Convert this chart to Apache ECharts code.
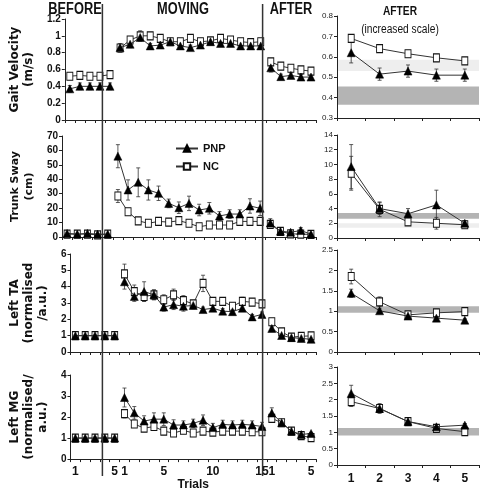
<!DOCTYPE html>
<html><head><meta charset="utf-8">
<script src="https://cdn.jsdelivr.net/npm/echarts@6/dist/echarts.min.js"></script>
<style>html,body{margin:0;padding:0;background:#fff}#c{width:480px;height:492px}</style>
</head><body><div id="c"></div>
<script>
// ---------- DATA ----------
const groups = ['PNP', 'NC'];
const afterCategories = ['1', '2', '3', '4', '5'];
const beforeTickLabels = ['1', '', '', '', '5'];
const movingTickLabels = ['1', '', '', '', '5', '', '', '', '', '10', '', '', '', '', '15'];
const afterTickLabels = ['1', '', '', '', '5'];

// Gait velocity (m/s)
const velBeforePNP = [0.37, 0.40, 0.40, 0.40, 0.40];
const velBeforeNC = [0.52, 0.53, 0.52, 0.52, 0.54];
const velMovingPNP = [0.86, 0.90, 0.98, 0.88, 0.89, 0.93, 0.88, 0.86, 0.89, 0.93, 0.91, 0.91, 0.88, 0.88, 0.88];
const velMovingNC = [0.855, 0.95, 1.00, 1.00, 0.97, 0.93, 0.93, 0.97, 0.93, 0.94, 0.97, 0.95, 0.93, 0.92, 0.93];
const velAfterPNP = [0.62, 0.515, 0.53, 0.51, 0.51];
const velAfterNC = [0.69, 0.64, 0.615, 0.595, 0.58];
const velErrBeforePNP = [0.04, 0.04, 0.04, 0.04, 0.04];
const velErrBeforeNC = [0.02, 0.02, 0.02, 0.02, 0.02];
const velErrMovingPNP = [0.04, 0.04, 0.04, 0.03, 0.03, 0.02, 0.02, 0.03, 0.02, 0.02, 0.02, 0.02, 0.02, 0.02, 0.02];
const velErrMovingNC = [0.05, 0.04, 0.06, 0.04, 0.03, 0.02, 0.02, 0.03, 0.02, 0.02, 0.03, 0.02, 0.02, 0.02, 0.02];
const velErrAfterPNP = [0.05, 0.03, 0.03, 0.03, 0.03];
const velErrAfterNC = [0.015, 0.015, 0.015, 0.015, 0.015];
const velBands = [[0.365, 0.455, 'dark'], [0.53, 0.585, 'light']];

// Trunk sway (cm)
const swayBeforePNP = [2.5, 2, 2.5, 2, 2];
const swayBeforeNC = [2, 2, 2, 1.5, 2];
const swayMovingPNP = [56, 32.6, 37.9, 32.6, 30.3, 23.3, 20.3, 23.3, 18.7, 19.9, 14.6, 15.9, 15.9, 21.5, 19.9];
const swayMovingNC = [28.4, 17.5, 11.2, 9.5, 10.8, 10.3, 11.3, 9.5, 7.1, 8.3, 8.3, 8.3, 10.8, 10.8, 10.8];
const swayAfterPNP = [9.7, 4.0, 3.3, 4.5, 2.0];
const swayAfterNC = [8.8, 3.9, 2.2, 2.0, 1.8];
const swayErrBeforePNP = [1, 1, 1, 1, 1];
const swayErrBeforeNC = [0.8, 0.8, 0.8, 0.8, 0.8];
const swayErrMovingPNP = [8, 7, 10, 7, 5, 3, 4, 5, 4, 4, 3, 3, 3, 5, 5];
const swayErrMovingNC = [4.5, 2, 1.5, 1.5, 1.5, 1.5, 1.5, 1.5, 1.2, 1.2, 1.2, 1.2, 1.5, 1.5, 1.5];
const swayErrAfterPNP = [3, 0.8, 0.7, 2, 0.3];
const swayErrAfterNC = [2.3, 1.0, 0.5, 0.8, 0.5];
const swayBands = [[2.6, 3.4, 'dark'], [1.4, 2.0, 'light']];

// Left TA (normalised / a.u.)
const taBeforePNP = [1, 1, 1, 1, 1];
const taBeforeNC = [1, 1, 1, 1, 1];
const taMovingPNP = [4.3, 3.4, 3.7, 3.5, 2.75, 2.9, 2.8, 2.85, 2.6, 2.68, 2.5, 2.47, 2.68, 2.15, 2.3];
const taMovingNC = [4.78, 3.7, 3.4, 3.5, 3.2, 3.5, 3.15, 2.95, 4.2, 3.1, 3.1, 2.8, 3.1, 3.05, 2.95];
const taAfterPNP = [1.44, 1.01, 0.88, 0.83, 0.78];
const taAfterNC = [1.85, 1.23, 0.91, 0.96, 0.99];
const taErrBeforePNP = [0, 0, 0, 0, 0];
const taErrBeforeNC = [0, 0, 0, 0, 0];
const taErrMovingPNP = [0.45, 0.3, 0.6, 0.3, 0.25, 0.3, 0.3, 0.2, 0.15, 0.15, 0.15, 0.15, 0.15, 0.15, 0.15];
const taErrMovingNC = [0.6, 0.4, 0.3, 0.3, 0.3, 0.35, 0.3, 0.2, 0.5, 0.2, 0.2, 0.2, 0.25, 0.2, 0.2];
const taErrAfterPNP = [0.1, 0.05, 0.03, 0.03, 0.03];
const taErrAfterNC = [0.18, 0.12, 0.05, 0.05, 0.05];
const taBands = [[0.96, 1.12, 'dark']];

// Left MG (normalised / a.u.)
const mgBeforePNP = [1, 1, 1, 1, 1];
const mgBeforeNC = [1, 1, 1, 1, 1];
const mgMovingPNP = [2.93, 2.2, 1.81, 1.9, 1.9, 1.62, 1.62, 1.7, 1.85, 1.5, 1.65, 1.62, 1.65, 1.62, 1.55];
const mgMovingNC = [2.16, 1.67, 1.47, 1.55, 1.33, 1.24, 1.37, 1.24, 1.33, 1.28, 1.33, 1.33, 1.33, 1.3, 1.3];
const mgAfterPNP = [2.19, 1.73, 1.33, 1.17, 1.22];
const mgAfterNC = [1.94, 1.73, 1.33, 1.12, 1.02];
const mgErrBeforePNP = [0, 0, 0, 0, 0];
const mgErrBeforeNC = [0, 0, 0, 0, 0];
const mgErrMovingPNP = [0.45, 0.3, 0.25, 0.3, 0.3, 0.25, 0.2, 0.2, 0.25, 0.2, 0.2, 0.2, 0.2, 0.2, 0.2];
const mgErrMovingNC = [0.2, 0.12, 0.1, 0.1, 0.1, 0.1, 0.1, 0.1, 0.1, 0.1, 0.1, 0.1, 0.1, 0.1, 0.1];
const mgErrAfterPNP = [0.25, 0.08, 0.05, 0.05, 0.05];
const mgErrAfterNC = [0.15, 0.15, 0.1, 0.08, 0.1];
const mgBands = [[0.9, 1.13, 'dark']];

// axis scales
const leftAxisMin = [0, 0, 0, 0];
const leftAxisMax = [1.2, 70, 6, 4];
const leftAxisStep = [0.2, 10, 1, 1];
const rightAxisMin = [0.3, 0, 0, 0];
const rightAxisMax = [0.8, 14, 2.5, 3];
const rightAxisStep = [0.1, 2, 0.5, 0.5];
const rowTitles = ['Gait Velocity\n(m/s)', 'Trunk Sway\n(cm)', 'Left TA\n(normalised\n/a.u.)', 'Left MG\n(normalised/\na.u.)'];

// ---------- LAYOUT (pixels) ----------
const LEFT_X = 49, LEFT_W = 267;
const RIGHT_X = 337, RIGHT_W = 142;
const leftRowsTop = [19, 136, 254, 375];
const leftRowsH = [101, 101, 98, 87];
const rightRowsTop = [16, 135, 250, 367];
const rightRowsH = [102, 103, 102, 98];
const nameGaps = [21, 23, 9, 8];
const titleSizes = [12, 11, 12, 12];

const FONT = "'Liberation Sans Narrow','Liberation Sans',Arial,sans-serif";
const TITLE_FONT = "'DejaVu Sans','Liberation Sans',sans-serif";

const measures = [
  {bP: velBeforePNP, bN: velBeforeNC, mP: velMovingPNP, mN: velMovingNC, aP: velAfterPNP, aN: velAfterNC,
   ebP: velErrBeforePNP, ebN: velErrBeforeNC, emP: velErrMovingPNP, emN: velErrMovingNC, eaP: velErrAfterPNP, eaN: velErrAfterNC, bands: velBands},
  {bP: swayBeforePNP, bN: swayBeforeNC, mP: swayMovingPNP, mN: swayMovingNC, aP: swayAfterPNP, aN: swayAfterNC,
   ebP: swayErrBeforePNP, ebN: swayErrBeforeNC, emP: swayErrMovingPNP, emN: swayErrMovingNC, eaP: swayErrAfterPNP, eaN: swayErrAfterNC, bands: swayBands},
  {bP: taBeforePNP, bN: taBeforeNC, mP: taMovingPNP, mN: taMovingNC, aP: taAfterPNP, aN: taAfterNC,
   ebP: taErrBeforePNP, ebN: taErrBeforeNC, emP: taErrMovingPNP, emN: taErrMovingNC, eaP: taErrAfterPNP, eaN: taErrAfterNC, bands: taBands},
  {bP: mgBeforePNP, bN: mgBeforeNC, mP: mgMovingPNP, mN: mgMovingNC, aP: mgAfterPNP, aN: mgAfterNC,
   ebP: mgErrBeforePNP, ebN: mgErrBeforeNC, emP: mgErrMovingPNP, emN: mgErrMovingNC, eaP: mgErrAfterPNP, eaN: mgErrAfterNC, bands: mgBands}
];

const nB = beforeTickLabels.length, nM = movingTickLabels.length, nA = afterTickLabels.length;
const nTotal = nB + nM + nA;
const allTickLabels = beforeTickLabels.concat(movingTickLabels, afterTickLabels);
const labelPositions = allTickLabels.map((t, i) => t ? i + 1 : null).filter(v => v !== null);
const boundaryTicks = Array.from({length: nTotal + 1}, (_, i) => i + 0.5);
const separators = [nB + 0.5, nB + nM + 0.5];

const grids = [], xAxes = [], yAxes = [], series = [];

function errorSeries(xi, yi, data, z) {
  return {
    type: 'custom', xAxisIndex: xi, yAxisIndex: yi, silent: true, z: z,
    data: data,
    renderItem: function (params, api) {
      const x = api.value(0), y = api.value(1), e = api.value(2);
      if (!e) return null;
      const t = api.coord([x, y + e]), b = api.coord([x, y - e]);
      const hw = 2;
      const st = {stroke: '#333', lineWidth: 0.8};
      return {type: 'group', children: [
        {type: 'line', shape: {x1: t[0], y1: t[1], x2: b[0], y2: b[1]}, style: st},
        {type: 'line', shape: {x1: t[0] - hw, y1: t[1], x2: t[0] + hw, y2: t[1]}, style: st},
        {type: 'line', shape: {x1: b[0] - hw, y1: b[1], x2: b[0] + hw, y2: b[1]}, style: st}
      ]};
    }
  };
}

const pnpStyle = {symbol: 'triangle', symbolSize: [8, 8], itemStyle: {color: '#000', borderColor: '#000', borderWidth: 0.5},
  lineStyle: {color: '#333', width: 1}};
const ncStyle = {symbol: 'rect', symbolSize: [6, 8], itemStyle: {color: '#fff', borderColor: '#111', borderWidth: 1},
  lineStyle: {color: '#333', width: 1}};

measures.forEach((m, r) => {
  const isBottom = r === measures.length - 1;
  // ----- left grid -----
  const gi = grids.length;
  grids.push({left: LEFT_X, width: LEFT_W, top: leftRowsTop[r], height: leftRowsH[r], containLabel: false});
  xAxes.push({
    type: 'value', gridIndex: gi, min: 0.5, max: nTotal + 0.5,
    axisLine: {show: true, lineStyle: {color: '#222', width: 1}},
    axisTick: {show: true, customValues: boundaryTicks, length: 3, lineStyle: {color: '#222'}},
    splitLine: {show: false},
    axisLabel: {show: isBottom, customValues: labelPositions, margin: 7,
      formatter: v => allTickLabels[Math.round(v) - 1],
      fontFamily: FONT, fontWeight: 'bold', fontSize: 12, color: '#111'},
    name: isBottom ? 'Trials' : '', nameLocation: 'middle', nameGap: 18,
    nameTextStyle: {fontFamily: FONT, fontWeight: 'bold', fontSize: 12, color: '#111'}
  });
  yAxes.push({
    type: 'value', gridIndex: gi, min: leftAxisMin[r], max: leftAxisMax[r], interval: leftAxisStep[r],
    axisLine: {show: true, lineStyle: {color: '#222', width: 1}},
    axisTick: {show: true, length: 3, lineStyle: {color: '#222'}},
    splitLine: {show: false},
    axisLabel: {fontFamily: FONT, fontWeight: 'bold', fontSize: 10, color: '#111', margin: 4,
      formatter: v => String(+v.toFixed(2))},
    name: rowTitles[r], nameLocation: 'middle', nameRotate: 90, nameGap: nameGaps[r],
    nameTextStyle: {fontFamily: TITLE_FONT, fontWeight: 'bold', fontSize: titleSizes[r], color: '#111', lineHeight: 14}
  });
  const pnpLeft = m.bP.concat(m.mP, m.aP);
  const ncLeft = m.bN.concat(m.mN, m.aN);
  const epLeft = m.ebP.concat(m.emP, m.eaP);
  const enLeft = m.ebN.concat(m.emN, m.eaN);
  series.push(errorSeries(gi, gi, pnpLeft.map((v, i) => [i + 1, v, epLeft[i]]), 2));
  series.push(errorSeries(gi, gi, ncLeft.map((v, i) => [i + 1, v, enLeft[i]]), 2));
  // lines broken between phases
  [[0, nB], [nB, nB + nM], [nB + nM, nTotal]].forEach((seg) => {
    series.push(Object.assign({type: 'line', name: 'NC', xAxisIndex: gi, yAxisIndex: gi, z: 3, animation: false,
      data: ncLeft.slice(seg[0], seg[1]).map((v, i) => [seg[0] + i + 1, v])}, ncStyle));
    series.push(Object.assign({type: 'line', name: 'PNP', xAxisIndex: gi, yAxisIndex: gi, z: 4, animation: false,
      data: pnpLeft.slice(seg[0], seg[1]).map((v, i) => [seg[0] + i + 1, v])}, pnpStyle));
  });

  // ----- right grid -----
  const gj = grids.length;
  grids.push({left: RIGHT_X, width: RIGHT_W, top: rightRowsTop[r], height: rightRowsH[r], containLabel: false});
  xAxes.push({
    type: 'category', gridIndex: gj, data: afterCategories, boundaryGap: true,
    axisLine: {show: true, lineStyle: {color: '#222', width: 1}},
    axisTick: {show: true, length: 3, lineStyle: {color: '#222'}},
    axisLabel: {show: isBottom, margin: 8, fontFamily: FONT, fontWeight: 'bold', fontSize: 12, color: '#111'}
  });
  yAxes.push({
    type: 'value', gridIndex: gj, min: rightAxisMin[r], max: rightAxisMax[r], interval: rightAxisStep[r],
    axisLine: {show: true, lineStyle: {color: '#222', width: 1}},
    axisTick: {show: true, length: 3, lineStyle: {color: '#222'}},
    splitLine: {show: false},
    axisLabel: {fontFamily: FONT, fontSize: 8, color: '#222', margin: 4,
      formatter: v => String(+v.toFixed(2))}
  });
  series.push({type: 'line', xAxisIndex: gj, yAxisIndex: gj, data: [], silent: true, z: 0,
    markArea: {silent: true, z: 0, data: m.bands.map(b => [{yAxis: b[0], itemStyle: {color: b[2] === 'dark' ? '#b4b4b4' : '#eeeeee'}}, {yAxis: b[1]}])}});
  series.push(errorSeries(gj, gj, m.aP.map((v, i) => [i, v, m.eaP[i]]), 2));
  series.push(errorSeries(gj, gj, m.aN.map((v, i) => [i, v, m.eaN[i]]), 2));
  series.push(Object.assign({type: 'line', name: 'NC', xAxisIndex: gj, yAxisIndex: gj, z: 3, animation: false, data: m.aN}, ncStyle));
  series.push(Object.assign({type: 'line', name: 'PNP', xAxisIndex: gj, yAxisIndex: gj, z: 4, animation: false, data: m.aP}, pnpStyle));
});

// full-height phase separators
const gs = grids.length;
grids.push({left: LEFT_X, width: LEFT_W, top: 4, height: 472});
xAxes.push({type: 'value', gridIndex: gs, min: 0.5, max: nTotal + 0.5, show: false});
yAxes.push({type: 'value', gridIndex: gs, min: 0, max: 1, show: false});
separators.forEach(s => {
  series.push({type: 'line', xAxisIndex: gs, yAxisIndex: gs, data: [[s, 0], [s, 1]], symbol: 'none', silent: true,
    lineStyle: {color: '#333', width: 1.5}, z: 5, animation: false});
});

const chart = echarts.init(document.getElementById('c'), null, {renderer: 'canvas'});
chart.setOption({
  backgroundColor: '#fff',
  animation: false,
  grid: grids, xAxis: xAxes, yAxis: yAxes, series: series,
  legend: {data: groups, orient: 'vertical', left: 170, top: 138, itemGap: 7, itemWidth: 22, itemHeight: 8,
    selectedMode: false,
    textStyle: {fontFamily: FONT, fontWeight: 'bold', fontSize: 11, color: '#111'}},
  graphic: [
    {type: 'text', x: 75, y: 2, scaleX: 0.8, style: {text: 'BEFORE', font: "bold 16px " + FONT, fill: '#111', textAlign: 'center'}},
    {type: 'text', x: 183, y: 2, scaleX: 0.8, style: {text: 'MOVING', font: "bold 16px " + FONT, fill: '#111', textAlign: 'center'}},
    {type: 'text', x: 291, y: 2, scaleX: 0.8, style: {text: 'AFTER', font: "bold 16px " + FONT, fill: '#111', textAlign: 'center'}},
    {type: 'text', x: 400, y: 6, scaleX: 0.85, style: {text: 'AFTER', font: "bold 12px " + FONT, fill: '#111', textAlign: 'center'}},
    {type: 'text', x: 400, y: 24, scaleX: 0.85, style: {text: '(increased scale)', font: "12px " + FONT, fill: '#111', textAlign: 'center'}}
  ]
});
</script>
</body></html>
